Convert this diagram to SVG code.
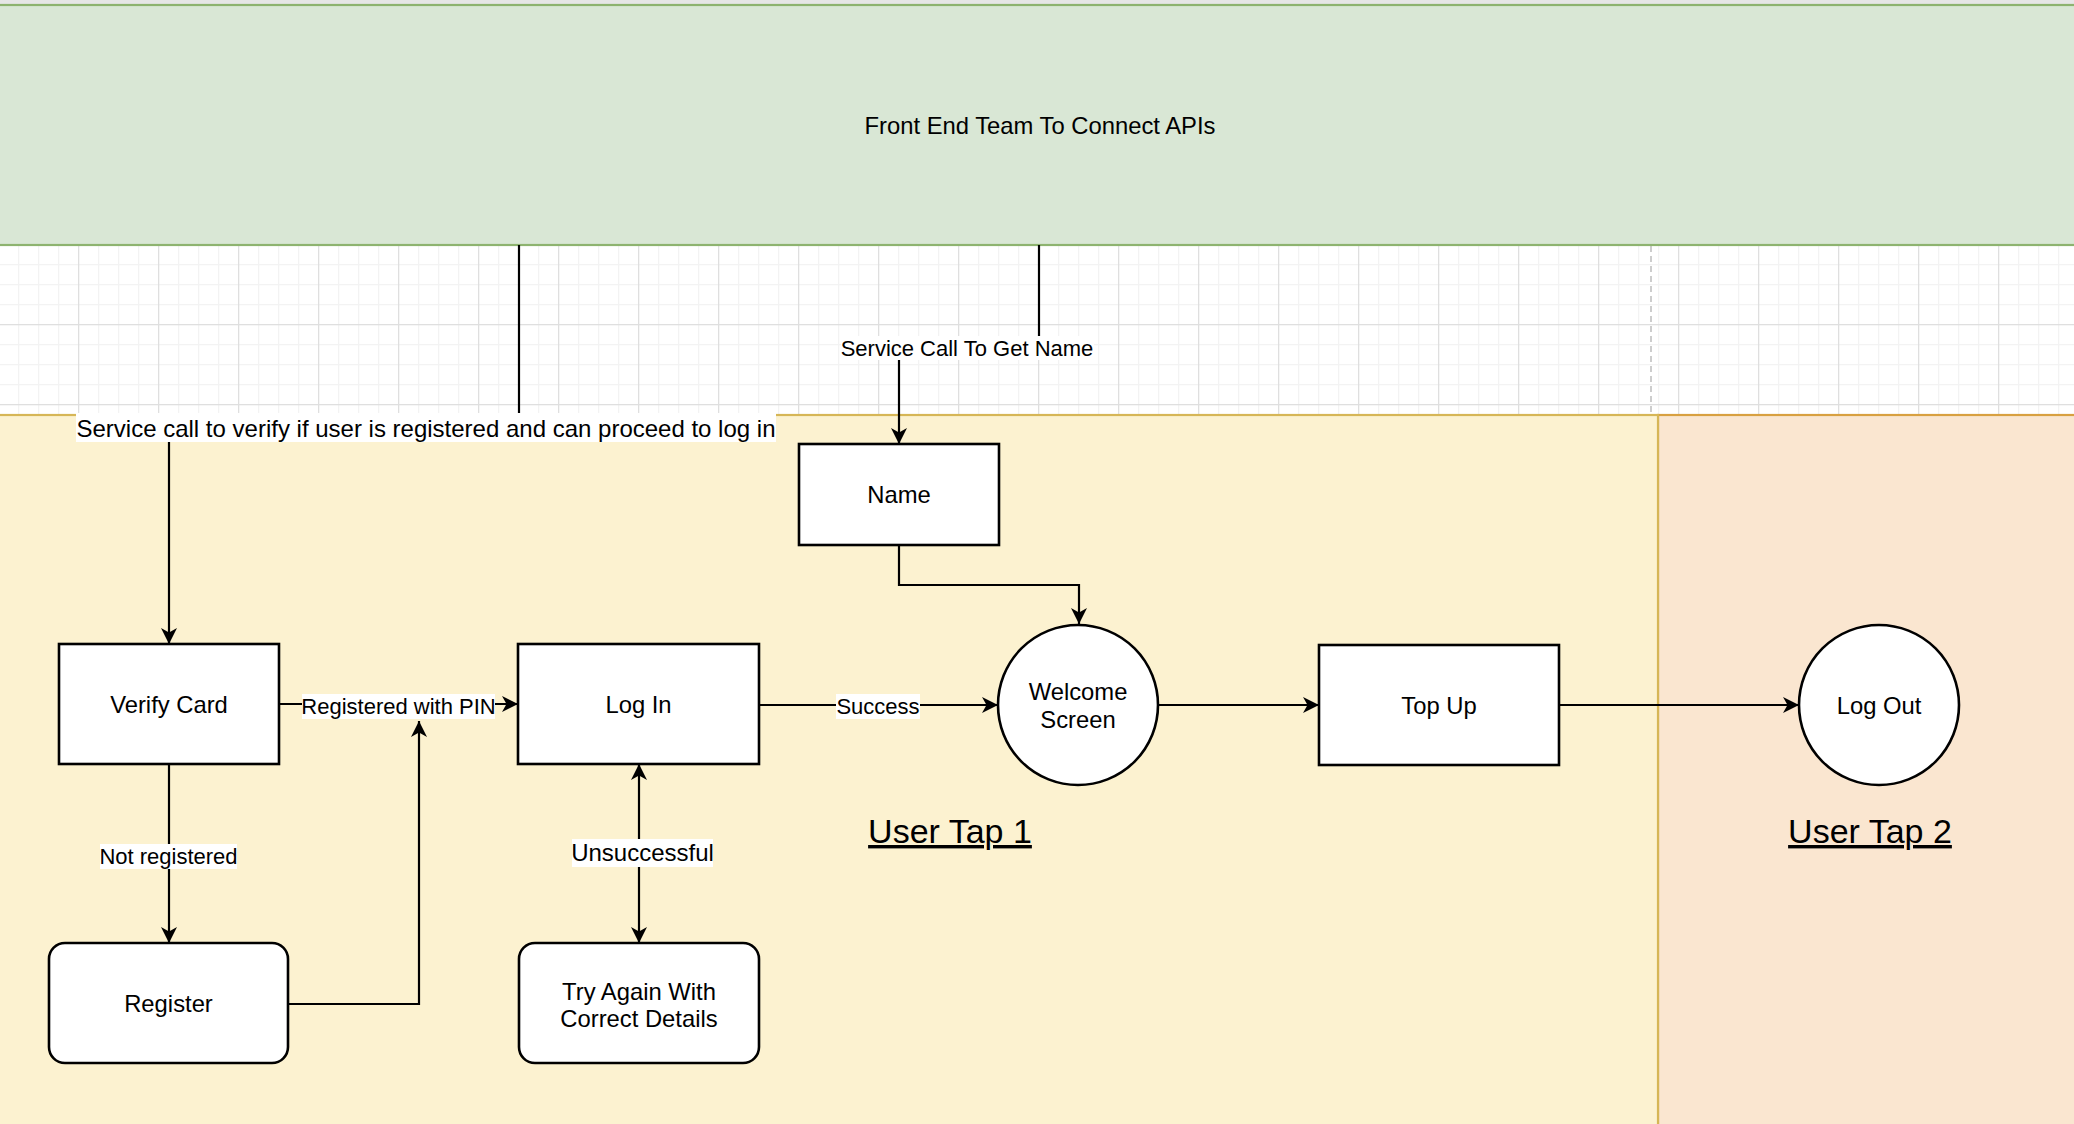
<svg xmlns="http://www.w3.org/2000/svg" width="2074" height="1124" viewBox="0 0 2074 1124">
  <style>
    .node { fill: #ffffff; stroke: #000000; stroke-width: 2.6; }
    .edge { fill: none; stroke: #000000; stroke-width: 2.2; }
    .t { font-family: "Liberation Sans", Arial, Helvetica, sans-serif; fill: #000000; text-anchor: middle; }
    .nt { font-size: 23.8px; }
    .et { font-size: 22px; }
    .etl { font-size: 24px; }
    .lbl { fill: #ffffff; stroke: none; }
    .tap { font-size: 34px; text-decoration: underline; }
  </style>
  <defs>
    <marker id="arr" viewBox="-16 -8 16 16" refX="0" refY="0" markerWidth="16" markerHeight="16" markerUnits="userSpaceOnUse" orient="auto-start-reverse">
      <path d="M0,0 L-16,-8 L-11.5,0 L-16,8 Z" fill="#000000"/>
    </marker>
    <pattern id="grid" patternUnits="userSpaceOnUse" x="-2" y="4" width="80" height="80">
      <rect x="20" y="0" width="1.3" height="80" fill="#f3f3f3"/>
      <rect x="40" y="0" width="1.3" height="80" fill="#f3f3f3"/>
      <rect x="60" y="0" width="1.3" height="80" fill="#f3f3f3"/>
      <rect x="0" y="20" width="80" height="1.3" fill="#f3f3f3"/>
      <rect x="0" y="40" width="80" height="1.3" fill="#f3f3f3"/>
      <rect x="0" y="60" width="80" height="1.3" fill="#f3f3f3"/>
      <rect x="0" y="0" width="1.3" height="80" fill="#dfdfdf"/>
      <rect x="0" y="0" width="80" height="1.3" fill="#dfdfdf"/>
    </pattern>
  </defs>

  <!-- background -->
  <rect x="0" y="0" width="2074" height="1124" fill="#ffffff"/>
  <rect x="0" y="0" width="2074" height="5" fill="#e6e6e6"/>
  <rect x="0" y="245" width="2074" height="170" fill="url(#grid)"/>
  <line x1="1651" y1="246" x2="1651" y2="414" stroke="#bdbdbd" stroke-width="1.5" stroke-dasharray="6 4"/>

  <!-- lanes -->
  <g id="lane-frontend">
    <rect x="-10" y="5" width="2100" height="240" fill="#d9e7d5" stroke="#8db36f" stroke-width="2.2"/>
    <text class="t nt" x="1040" y="134">Front End Team To Connect APIs</text>
  </g>
  <g id="lane-tap2">
    <rect x="1658" y="415" width="430" height="720" fill="#fae6d0" stroke="#d8a040" stroke-width="2.2"/>
  </g>
  <g id="lane-tap1">
    <rect x="-10" y="415" width="1668" height="720" fill="#fcf2d0" stroke="#d6b656" stroke-width="2.2"/>
  </g>

  <!-- connectors -->
  <g id="connectors">
    <path class="edge" d="M519,245 V428 H169 V644" marker-end="url(#arr)"/>
    <path class="edge" d="M1039,245 V348 H899 V444" marker-end="url(#arr)"/>
    <path class="edge" d="M169,764 V943" marker-end="url(#arr)"/>
    <path class="edge" d="M279,704 H518" marker-end="url(#arr)"/>
    <path class="edge" d="M288,1004 H419 V721" marker-end="url(#arr)"/>
    <path class="edge" d="M639,764 V943" marker-start="url(#arr)" marker-end="url(#arr)"/>
    <path class="edge" d="M759,705 H998" marker-end="url(#arr)"/>
    <path class="edge" d="M899,545 V585 H1079 V624" marker-end="url(#arr)"/>
    <path class="edge" d="M1158,705 H1319" marker-end="url(#arr)"/>
    <path class="edge" d="M1559,705 H1799" marker-end="url(#arr)"/>

    <g id="label-verify-service">
      <rect class="lbl" x="76" y="413" width="700" height="29"/>
      <text class="t etl" x="426" y="436.5">Service call to verify if user is registered and can proceed to log in</text>
    </g>
    <g id="label-name-service">
      <rect class="lbl" x="841" y="336" width="253" height="24"/>
      <text class="t et" x="967" y="355.5">Service Call To Get Name</text>
    </g>
    <g id="label-registered">
      <rect class="lbl" x="302" y="694" width="193" height="25"/>
      <text class="t et" x="398.5" y="713.5">Registered with PIN</text>
    </g>
    <g id="label-not-registered">
      <rect class="lbl" x="100" y="844" width="137" height="25"/>
      <text class="t et" x="168.5" y="863.5">Not registered</text>
    </g>
    <g id="label-unsuccessful">
      <rect class="lbl" x="572" y="839" width="141" height="28"/>
      <text class="t etl" x="642.5" y="861">Unsuccessful</text>
    </g>
    <g id="label-success">
      <rect class="lbl" x="836" y="694" width="84" height="25"/>
      <text class="t et" x="878" y="713.5">Success</text>
    </g>
  </g>

  <!-- nodes -->
  <g id="node-verify-card">
    <rect class="node" x="59" y="644" width="220" height="120"/>
    <text class="t nt" x="169" y="712.5">Verify Card</text>
  </g>
  <g id="node-log-in">
    <rect class="node" x="518" y="644" width="241" height="120"/>
    <text class="t nt" x="638.5" y="712.5">Log In</text>
  </g>
  <g id="node-register">
    <rect class="node" x="49" y="943" width="239" height="120" rx="16" ry="16"/>
    <text class="t nt" x="168.5" y="1011.5">Register</text>
  </g>
  <g id="node-try-again">
    <rect class="node" x="519" y="943" width="240" height="120" rx="16" ry="16"/>
    <text class="t nt" x="639" y="999.5">Try Again With</text>
    <text class="t nt" x="639" y="1027">Correct Details</text>
  </g>
  <g id="node-name">
    <rect class="node" x="799" y="444" width="200" height="101"/>
    <text class="t nt" x="899" y="503">Name</text>
  </g>
  <g id="node-welcome">
    <circle class="node" cx="1078" cy="705" r="80"/>
    <text class="t nt" x="1078" y="700">Welcome</text>
    <text class="t nt" x="1078" y="728">Screen</text>
  </g>
  <g id="node-top-up">
    <rect class="node" x="1319" y="645" width="240" height="120"/>
    <text class="t nt" x="1439" y="713.5">Top Up</text>
  </g>
  <g id="node-log-out">
    <circle class="node" cx="1879" cy="705" r="80"/>
    <text class="t nt" x="1879" y="713.5">Log Out</text>
  </g>

  <g id="title-tap1">
    <text class="t tap" x="950" y="843">User Tap 1</text>
  </g>
  <g id="title-tap2">
    <text class="t tap" x="1870" y="843">User Tap 2</text>
  </g>
</svg>
